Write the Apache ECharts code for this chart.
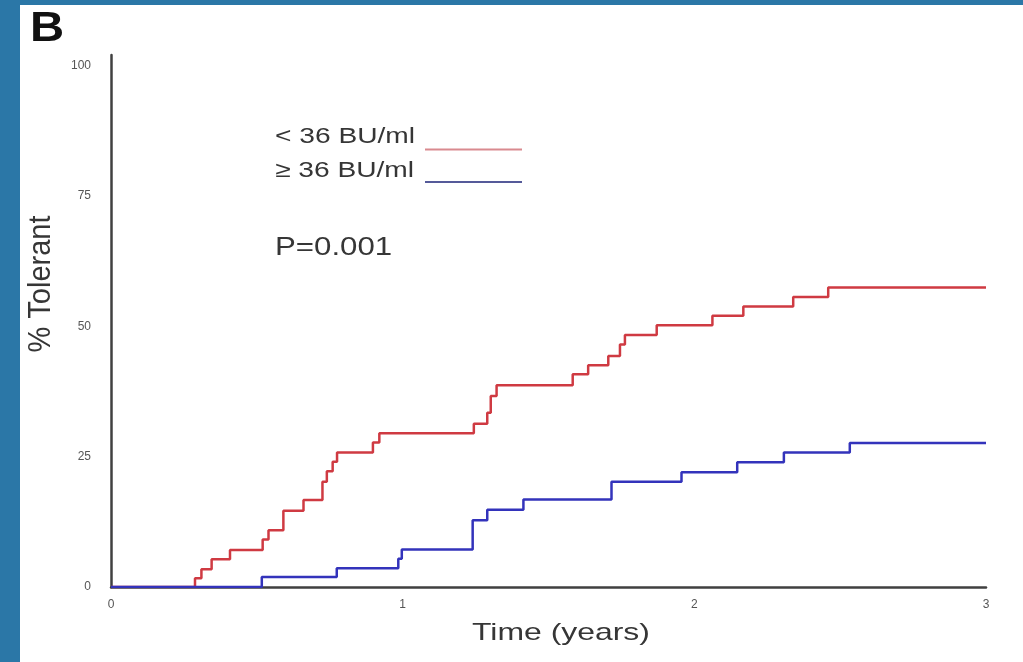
<!DOCTYPE html>
<html>
<head>
<meta charset="utf-8">
<script src="https://cdn.jsdelivr.net/npm/echarts@6/dist/echarts.min.js"></script>
<style>
html, body { margin: 0; padding: 0; background: #2b77a7; }
#frame { position: absolute; left: 0; top: 0; width: 1023px; height: 662px; background: #2b77a7; }
#main { position: absolute; left: 20px; top: 5px; width: 1003px; height: 657px; background: #fff; }
</style>
</head>
<body>
<div id="frame"><div id="main"></div></div>
<script>
// time in years, % tolerant (step values)
var lowTimes = [0, 0.288, 0.31, 0.345, 0.408, 0.52, 0.54, 0.591, 0.66, 0.725, 0.74, 0.76, 0.775, 0.898, 0.92,
	1.244, 1.29, 1.302, 1.322, 1.583, 1.636, 1.705, 1.745, 1.762, 1.871, 2.062, 2.168, 2.339, 2.459, 3.0]
var lowValues = [0, 1.7, 3.4, 5.3, 7.1, 9.1, 10.9, 14.6, 16.7, 20.2, 22.2, 24.0, 25.8, 27.7, 29.5,
	31.3, 33.4, 36.6, 38.7, 40.8, 42.5, 44.3, 46.5, 48.3, 50.2, 52.0, 53.8, 55.6, 57.4, 57.4]

var highTimes = [0, 0.517, 0.774, 0.985, 0.997, 1.24, 1.29, 1.414, 1.716, 1.956, 2.147, 2.307, 2.533, 3.0]
var highValues = [0, 1.9, 3.6, 5.4, 7.2, 12.8, 14.8, 16.8, 20.2, 22.0, 23.9, 25.8, 27.6, 27.6]

var seriesNames = ['< 36 BU/ml', '≥ 36 BU/ml']
var yTicks = [0, 25, 50, 75, 100]
var xTicks = [0, 1, 2, 3]

function pairs(ts, vs) {
	var out = []
	for (var i = 0; i < ts.length; i++) {
		out.push([ts[i], vs[i]])
	}
	return out
}

var chart = echarts.init(document.getElementById('main'))

var txt = '#363636'
var option = {
	animation: false,
	backgroundColor: '#fff',
	textStyle: { fontFamily: 'Liberation Sans, Arial, sans-serif' },
	grid: { left: 91, right: 37, top: 50, bottom: 75 },
	xAxis: {
		type: 'value',
		min: 0,
		max: 3,
		interval: 1,
		axisLine: { lineStyle: { color: '#404040', width: 2.5 } },
		axisTick: { show: false },
		splitLine: { show: false },
		axisLabel: {
			color: '#555',
			fontSize: 12,
			margin: 12,
			formatter: function (v) { return xTicks.indexOf(v) >= 0 ? String(v) : '' }
		}
	},
	yAxis: {
		type: 'value',
		min: 0,
		max: 102,
		interval: 25,
		axisLine: { show: true, lineStyle: { color: '#404040', width: 2.5 } },
		axisTick: { show: false },
		splitLine: { show: false },
		axisLabel: {
			color: '#555',
			fontSize: 12,
			margin: 20,
			formatter: function (v) { return yTicks.indexOf(v) >= 0 ? String(v) : '' }
		}
	},
	series: [
		{
			name: seriesNames[0],
			type: 'line',
			step: 'end',
			showSymbol: false,
			data: pairs(lowTimes, lowValues),
			lineStyle: { color: '#cf3a42', width: 2.5 },
			itemStyle: { color: '#cf3a42' }
		},
		{
			name: seriesNames[1],
			type: 'line',
			step: 'end',
			showSymbol: false,
			data: pairs(highTimes, highValues),
			lineStyle: { color: '#3333bb', width: 2.5 },
			itemStyle: { color: '#3333bb' }
		}
	],
	graphic: [
		// panel letter
		{ type: 'text', x: 10, y: 24, scaleX: 1.1,
			style: { text: 'B', font: 'bold 43px Liberation Sans', fill: '#111', textAlign: 'left', textVerticalAlign: 'middle' } },
		// axis titles
		{ type: 'text', x: 21, y: 279, rotation: Math.PI / 2, scaleY: 1.1,
			style: { text: '% Tolerant', font: '29px Liberation Sans', fill: txt, textAlign: 'center', textVerticalAlign: 'middle' } },
		{ type: 'text', x: 541, y: 628, scaleX: 1.33,
			style: { text: 'Time (years)', font: '24px Liberation Sans', fill: txt, textAlign: 'center', textVerticalAlign: 'middle' } },
		// legend
		{ type: 'text', x: 255, y: 132, scaleX: 1.28,
			style: { text: seriesNames[0], font: '22px Liberation Sans', fill: txt, textAlign: 'left', textVerticalAlign: 'middle' } },
		{ type: 'line', shape: { x1: 405, y1: 144.5, x2: 502, y2: 144.5 }, style: { stroke: '#d98a8f', lineWidth: 2 } },
		{ type: 'text', x: 255, y: 165.5, scaleX: 1.28,
			style: { text: seriesNames[1], font: '22px Liberation Sans', fill: txt, textAlign: 'left', textVerticalAlign: 'middle' } },
		{ type: 'line', shape: { x1: 405, y1: 177, x2: 502, y2: 177 }, style: { stroke: '#555a99', lineWidth: 2 } },
		// p value
		{ type: 'text', x: 255, y: 243, scaleX: 1.2,
			style: { text: 'P=0.001', font: '26px Liberation Sans', fill: txt, textAlign: 'left', textVerticalAlign: 'middle' } }
	]
}
chart.setOption(option)
</script>
</body>
</html>
